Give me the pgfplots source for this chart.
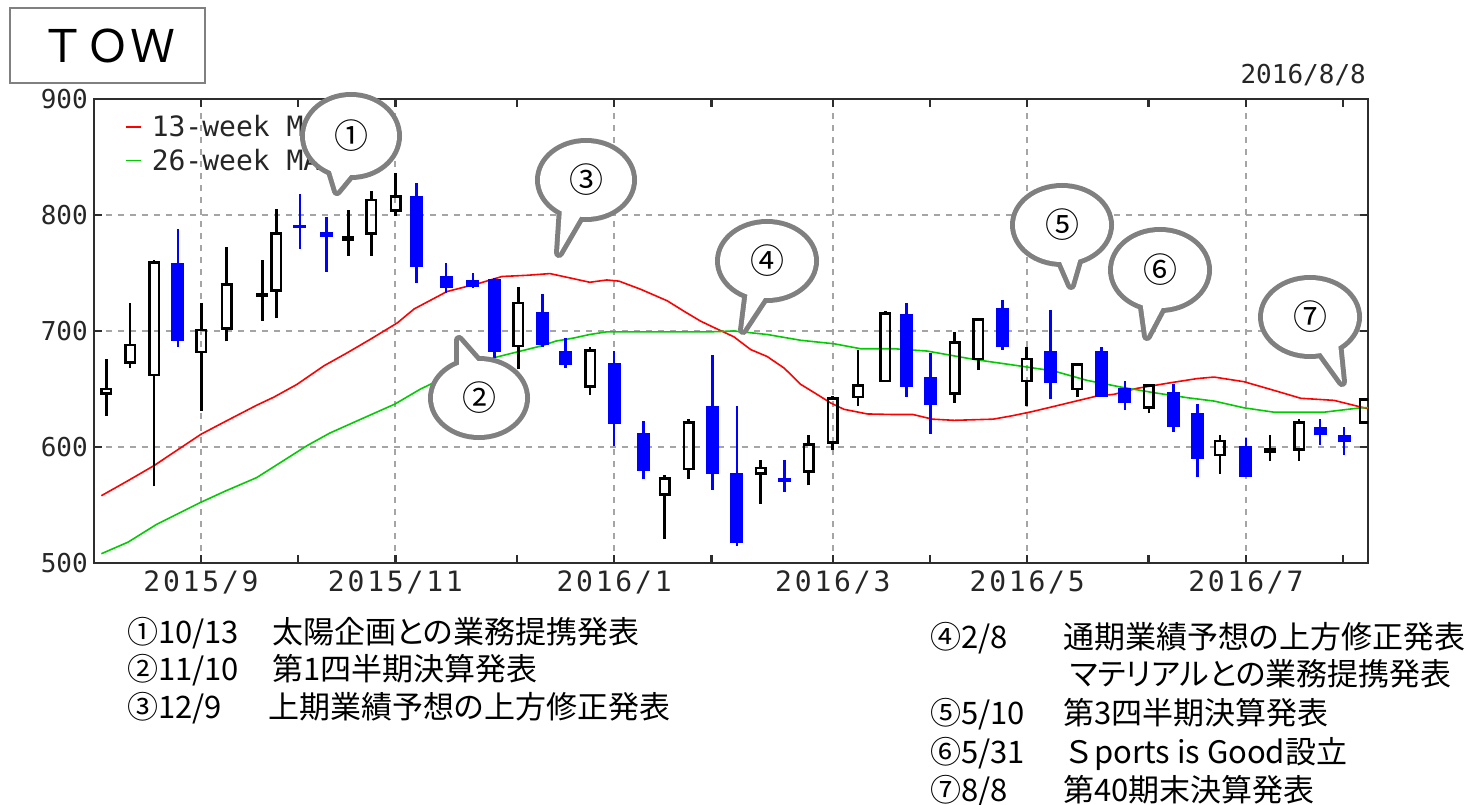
\documentclass[border=0pt]{standalone}
\usepackage{fontspec}
\usepackage{pgfplots}
\usepackage{pgfplotstable}
\pgfplotsset{compat=1.18}
\setmainfont{Noto Sans CJK JP}
\newfontfamily\jp{Noto Sans CJK JP}
\newfontfamily\jpp[RawFeature=+palt]{Noto Sans CJK JP}
\newfontfamily\mono{DejaVu Sans Mono}
\newfontfamily\monowide[LetterSpace=10]{DejaVu Sans Mono}
\definecolor{cblue}{RGB}{0,0,255}
\definecolor{mared}{RGB}{255,0,0}
\definecolor{magreen}{RGB}{0,204,0}
\definecolor{bubgray}{RGB}{128,128,128}
\definecolor{gridgray}{RGB}{165,165,165}
\definecolor{framec}{RGB}{45,45,45}

% weekly candles: i = week index (0 = first week of 2015/9)
% up (white) candles, o < c
\pgfplotstableread{
i o h l c
-3.90 646 676 627 650
-2.92 673 724 668 688
-1.93 662 761 566 759
0.01 682 724 631 701
1.06 702 772 691 740
2.52 730 761 709 732
3.10 735 805 711 784
6.06 779 804 765 781
7.01 784 821 765 813
8.01 804 836 799 816
13.06 687 738 667 724
16.01 652 686 645 683
19.08 559 576 521 573
20.07 581 624 572 621
23.03 577 589 551 582
25.01 579 610 567 602
26.00 604 644 597 642
27.04 643 684 635 653
28.16 657 717 657 715
31.02 646 699 638 690
31.99 676 710 666 710
33.98 657 686 635 676
36.06 650 672 643 671
39.01 634 654 629 653
41.93 593 610 577 605
44.00 596 610 588 598
45.19 598 624 588 621
47.89 621 642 620 641
}\upc
% down (blue) candles, o > c
\pgfplotstableread{
i o h l c
-0.95 759 788 686 691
4.07 791 818 771 789
5.16 785 798 751 781
8.88 816 828 741 755
10.09 747 759 733 737
11.19 744 750 737 738
12.09 745 746 677 682
14.05 716 732 686 688
15.01 683 694 668 671
17.00 672 683 601 620
18.20 612 622 572 579
21.06 635 679 563 577
22.05 578 635 515 517
24.02 573 589 561 570
29.04 715 724 643 652
30.03 660 681 611 636
32.98 720 727 684 686
34.97 683 718 641 655
37.05 683 686 643 643
38.02 651 657 632 638
40.01 647 654 613 617
41.00 629 637 574 590
43.00 601 608 574 574
46.05 617 624 602 610
47.04 610 617 593 604
}\dnc
% 13-week moving average
\pgfplotstableread{
i v
-4.10 558
-3.00 571
-1.93 584
-1.00 597
0.00 611
1.00 622
2.29 636
3.00 643
3.95 654
5.06 670
6.00 681
6.98 693
8.08 707
8.77 719
10.12 734
11.51 741.5
12.39 747
13.40 748
14.36 749.5
15.35 745
16.00 742
16.70 744
17.20 743
18.09 736
19.19 726
19.88 717
20.56 708.5
21.11 703
21.93 695
22.62 684
23.30 678
24.00 668
24.68 654
25.35 645.4
25.91 638
26.46 632.5
27.42 628.5
28.52 628
29.30 628
30.10 624
31.00 623
32.60 624
33.40 627
34.20 630.5
35.10 635
36.88 644
37.57 645.4
38.52 650.6
39.90 655.4
41.00 659
41.69 660.3
42.92 656.3
44.16 648.8
45.26 642
46.63 640.2
47.72 634.5
48.03 633
}\maA
% 26-week moving average
\pgfplotstableread{
i v
-4.10 508
-3.00 518
-1.82 533.4
-0.04 552
1.00 562
2.29 573.6
3.30 587
4.35 601
5.30 612
6.41 622.4
7.98 637
9.01 649.7
10.41 664
12.06 677
13.98 687
14.60 691.3
15.35 694
16.00 697
16.71 699.3
20.98 699.3
21.93 700
23.30 697
24.68 692
26.05 689
27.15 684.7
28.52 684.7
29.89 682.7
31.81 675.5
33.32 671
35.10 665.5
36.47 657.4
37.85 651.7
39.22 646.8
40.59 642.5
41.69 639.6
42.92 633.8
44.16 630
46.21 630
47.72 633.8
48.03 634
}\maB

\pgfplotsset{
  vseg/.style n args={2}{draw=none, mark=none, forget plot,
    error bars/.cd, y dir=plus, y explicit, error mark=none,
    error bar style={draw=#1, solid, line width=#2, line cap=butt}},
  hseg/.style n args={2}{draw=none, mark=none, forget plot,
    error bars/.cd, x dir=plus, x explicit, error mark=none,
    error bar style={draw=#1, solid, line width=#2, line cap=butt}},
}

\newcommand{\bubble}[6]{%
  % #1 centre, #2 radii, #3 base1, #4 base2, #5 tip, #6 label
  \draw[bubgray, line width=10pt, line join=round] #3 -- #5 -- #4;
  \draw[bubgray, line width=10pt] #1 ellipse [#2];
  \fill[white] #3 -- #5 -- #4 -- cycle;
  \fill[white] #1 ellipse [#2];
  \node[text=black, inner sep=0pt] at #1 {\jp\fontsize{34}{34}\selectfont #6};
}

\begin{document}
\begin{tikzpicture}
\path[use as bounding box] (0pt,0pt) rectangle (1479pt,-805pt);
\begin{axis}[
  at={(94pt,-563pt)}, anchor=south west,
  scale only axis, width=1274pt, height=464pt,
  xmin=-4.403, xmax=48.025, ymin=500, ymax=900,
  xtick={0,8,17,26,34,43},
  xticklabels={2015/9,2015/11,2016/1,2016/3,2016/5,2016/7},
  minor xtick={4,13,21,30,39,47},
  ytick={500,600,700,800,900},
  yticklabels={500,600,700,800,900},
  xmajorgrids, ymajorgrids,
  major grid style={gridgray, line width=2pt, dash pattern=on 6pt off 6pt},
  tick align=inside,
  major tick length=8pt, minor tick length=8pt,
  tick style={framec, line width=2.5pt},
  axis line style={framec, line width=2.5pt},
  ticklabel style={text=black!85, inner sep=4pt},
  yticklabel style={font=\mono\fontsize{26}{26}\selectfont, xshift=-2pt},
  xticklabel style={font=\monowide\fontsize{28}{28}\selectfont, yshift=-4pt},
  legend style={at={(0.0243,0.9651)}, anchor=north west, draw=none, fill=none,
    inner sep=0pt, row sep=11pt, font=\mono\fontsize{28}{28}\selectfont,
    text=black!85, nodes={inner sep=0pt}},
  legend cell align=left,
  legend image code/.code={\draw[#1] (0pt,0pt) -- (15pt,0pt); \path (25pt,0pt);},
]
% moving averages
\addplot[mared, line width=1.6pt, mark=none] table[x=i, y=v] {\maA};
\addlegendentry{13-week MA}
\addplot[magreen, line width=1.6pt, mark=none] table[x=i, y=v] {\maB};
\addlegendentry{26-week MA}
% down candles: wick and filled body
\addplot[vseg={cblue}{2.6pt}] table[x=i, y=l, y error plus expr=\thisrow{h}-\thisrow{l}] {\dnc};
\addplot[vseg={cblue}{13pt}] table[x=i, y=c, y error plus expr=\thisrow{o}-\thisrow{c}] {\dnc};
% up candles: wicks
\addplot[vseg={black}{2.6pt}] table[x=i, y=l, y error plus expr=\thisrow{o}-\thisrow{l}] {\upc};
\addplot[vseg={black}{2.6pt}] table[x=i, y=c, y error plus expr=\thisrow{h}-\thisrow{c}] {\upc};
% up candles: hollow body outline
\addplot[vseg={black}{2.5pt}] table[x expr=\thisrow{i}-0.195, y=o, y error plus expr=\thisrow{c}-\thisrow{o}] {\upc};
\addplot[vseg={black}{2.5pt}] table[x expr=\thisrow{i}+0.195, y=o, y error plus expr=\thisrow{c}-\thisrow{o}] {\upc};
\addplot[hseg={black}{2.5pt}] table[x expr=\thisrow{i}-0.247, y=o, x error plus expr=0.494] {\upc};
\addplot[hseg={black}{2.5pt}] table[x expr=\thisrow{i}-0.247, y=c, x error plus expr=0.494] {\upc};
\end{axis}

\begin{scope}[x=1pt, y=-1pt]
% date at top right
\node[anchor=east, inner sep=0pt, text=black!85] at (1366,75) {\mono\fontsize{26}{26}\selectfont 2016/8/8};
% title box
\draw[bubgray, line width=1.5pt, fill=white] (10,8) rectangle (205,83);
\node[inner sep=0pt] at (107.5,46) {\jp\fontsize{45}{45}\selectfont ＴＯＷ};
% callouts
\bubble{(351,136)}{x radius=46pt, y radius=39pt}{(330,168)}{(356,168)}{(337,191)}{①}
\bubble{(479,398)}{x radius=46pt, y radius=37pt}{(459,368)}{(481,365)}{(459,340)}{②}
\bubble{(586,180)}{x radius=46pt, y radius=37pt}{(562,208)}{(584,210)}{(559,253)}{③}
\bubble{(767,261)}{x radius=47pt, y radius=37pt}{(748,290)}{(768,292)}{(743,330)}{④}
\bubble{(1062,225)}{x radius=47pt, y radius=37pt}{(1058,255)}{(1080,254)}{(1071,285)}{⑤}
\bubble{(1160,270)}{x radius=47pt, y radius=38pt}{(1142,300)}{(1165,302)}{(1147,336)}{⑥}
\bubble{(1310,317)}{x radius=47pt, y radius=37pt}{(1316,346)}{(1338,343)}{(1342,382)}{⑦}
% notes
\begin{scope}[every node/.style={anchor=base west, inner sep=0pt, font=\jpp\fontsize{31}{36}\selectfont}]
\node at (127,643) {①10/13};
\node at (272,643) {太陽企画との業務提携発表};
\node at (127,680) {②11/10};
\node at (272,680) {第1四半期決算発表};
\node at (127,718) {③12/9};
\node at (268,718) {上期業績予想の上方修正発表};
\node at (930,648) {④2/8};
\node at (1063,648) {通期業績予想の上方修正発表};
\node at (1070,685) {マテリアルとの業務提携発表};
\node at (930,724) {⑤5/10};
\node at (1063,724) {第3四半期決算発表};
\node at (930,763) {⑥5/31};
\node at (1063,763) {{\jp Ｓ}ports is Good設立};
\node at (930,801) {⑦8/8};
\node at (1063,801) {第40期末決算発表};
\end{scope}
\end{scope}
\end{tikzpicture}
\end{document}
